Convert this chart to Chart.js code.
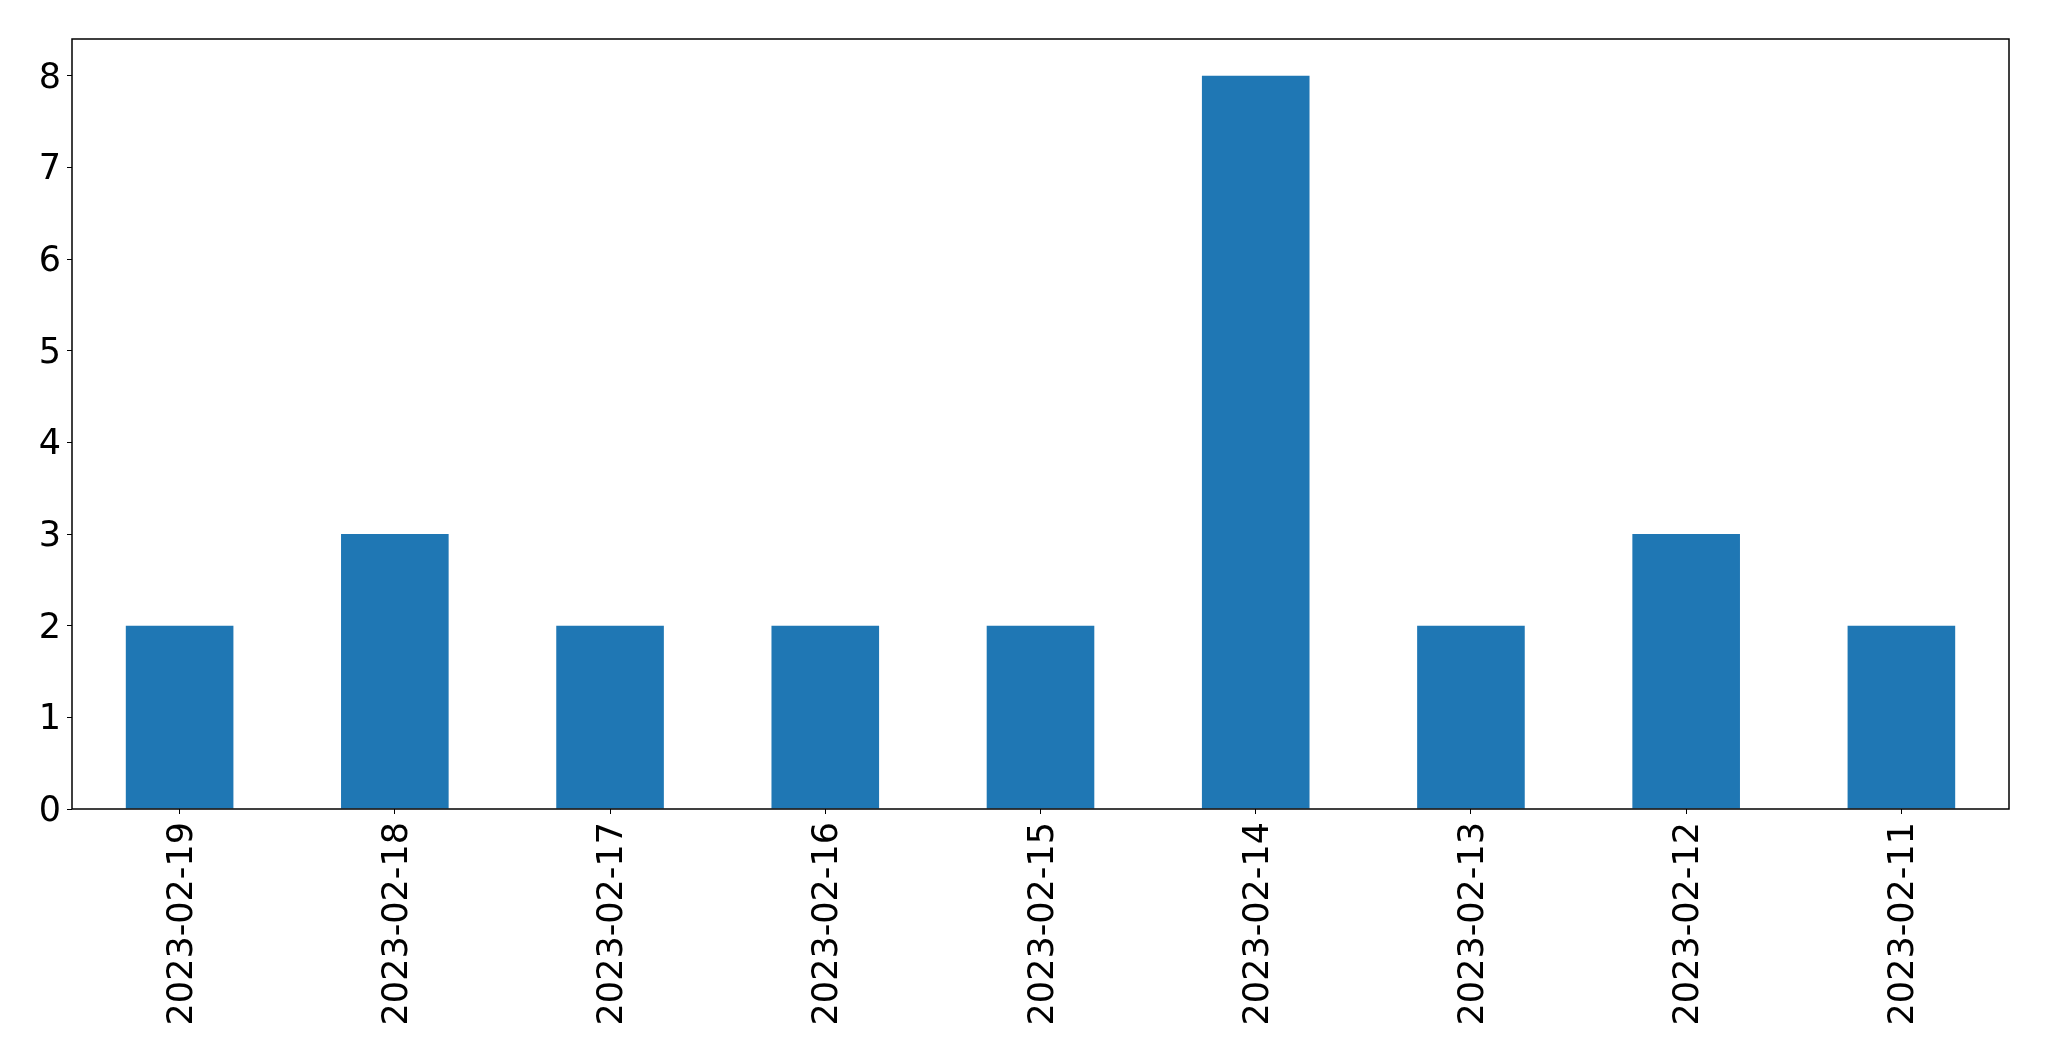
<!DOCTYPE html>
<html>
<head>
<meta charset="utf-8">
<script src="https://cdn.jsdelivr.net/npm/chart.js@4"></script>
<style>
  body { margin: 0; background: #fff; }
</style>
</head>
<body>
<canvas id="chart" width="2049" height="1061"></canvas>
<script>
const dates = ["2023-02-19", "2023-02-18", "2023-02-17", "2023-02-16", "2023-02-15",
  "2023-02-14", "2023-02-13", "2023-02-12", "2023-02-11"]
const counts = [2, 3, 2, 2, 2, 8, 2, 3, 2]
const yTicks = [0, 1, 2, 3, 4, 5, 6, 7, 8]

// box round the plot area, like the matplotlib spines
const frame = {
  id: "frame",
  afterDraw(chart) {
    const { ctx, chartArea: a } = chart
    ctx.save()
    ctx.strokeStyle = "#000"
    ctx.lineWidth = 1.5
    ctx.strokeRect(a.left, a.top, a.right - a.left, a.bottom - a.top)
    ctx.restore()
  },
}

Chart.defaults.font.family = "'DejaVu Sans', sans-serif"
Chart.defaults.color = "#000"

new Chart(document.getElementById("chart").getContext("2d"), {
  type: "bar",
  data: {
    labels: dates,
    datasets: [
      {
        data: counts,
        backgroundColor: "#1f77b4",
        barPercentage: 0.5,
        categoryPercentage: 1,
      },
    ],
  },
  options: {
    responsive: false,
    animation: false,
    layout: { padding: { top: 39, right: 40, left: 0, bottom: 0 } },
    plugins: { legend: { display: false }, tooltip: { enabled: false } },
    scales: {
      x: {
        offset: true,
        grid: { offset: false, drawOnChartArea: false, drawTicks: true, tickLength: 5, color: "#000" },
        border: { display: false },
        ticks: { font: { size: 35 }, maxRotation: 90, minRotation: 90, padding: 8, labelOffset: 3 },
        afterFit: scale => { scale.height = 252 },
      },
      y: {
        min: 0,
        max: 8.4,
        grid: { drawOnChartArea: false, drawTicks: true, tickLength: 5, color: "#000" },
        border: { display: false },
        ticks: { font: { size: 35 }, padding: 6, labelOffset: 3 },
        afterBuildTicks: scale => {
          scale.ticks = yTicks.map(v => ({ value: v }))
        },
        afterFit: scale => { scale.width = 72 },
      },
    },
  },
  plugins: [frame],
})
</script>
</body>
</html>
